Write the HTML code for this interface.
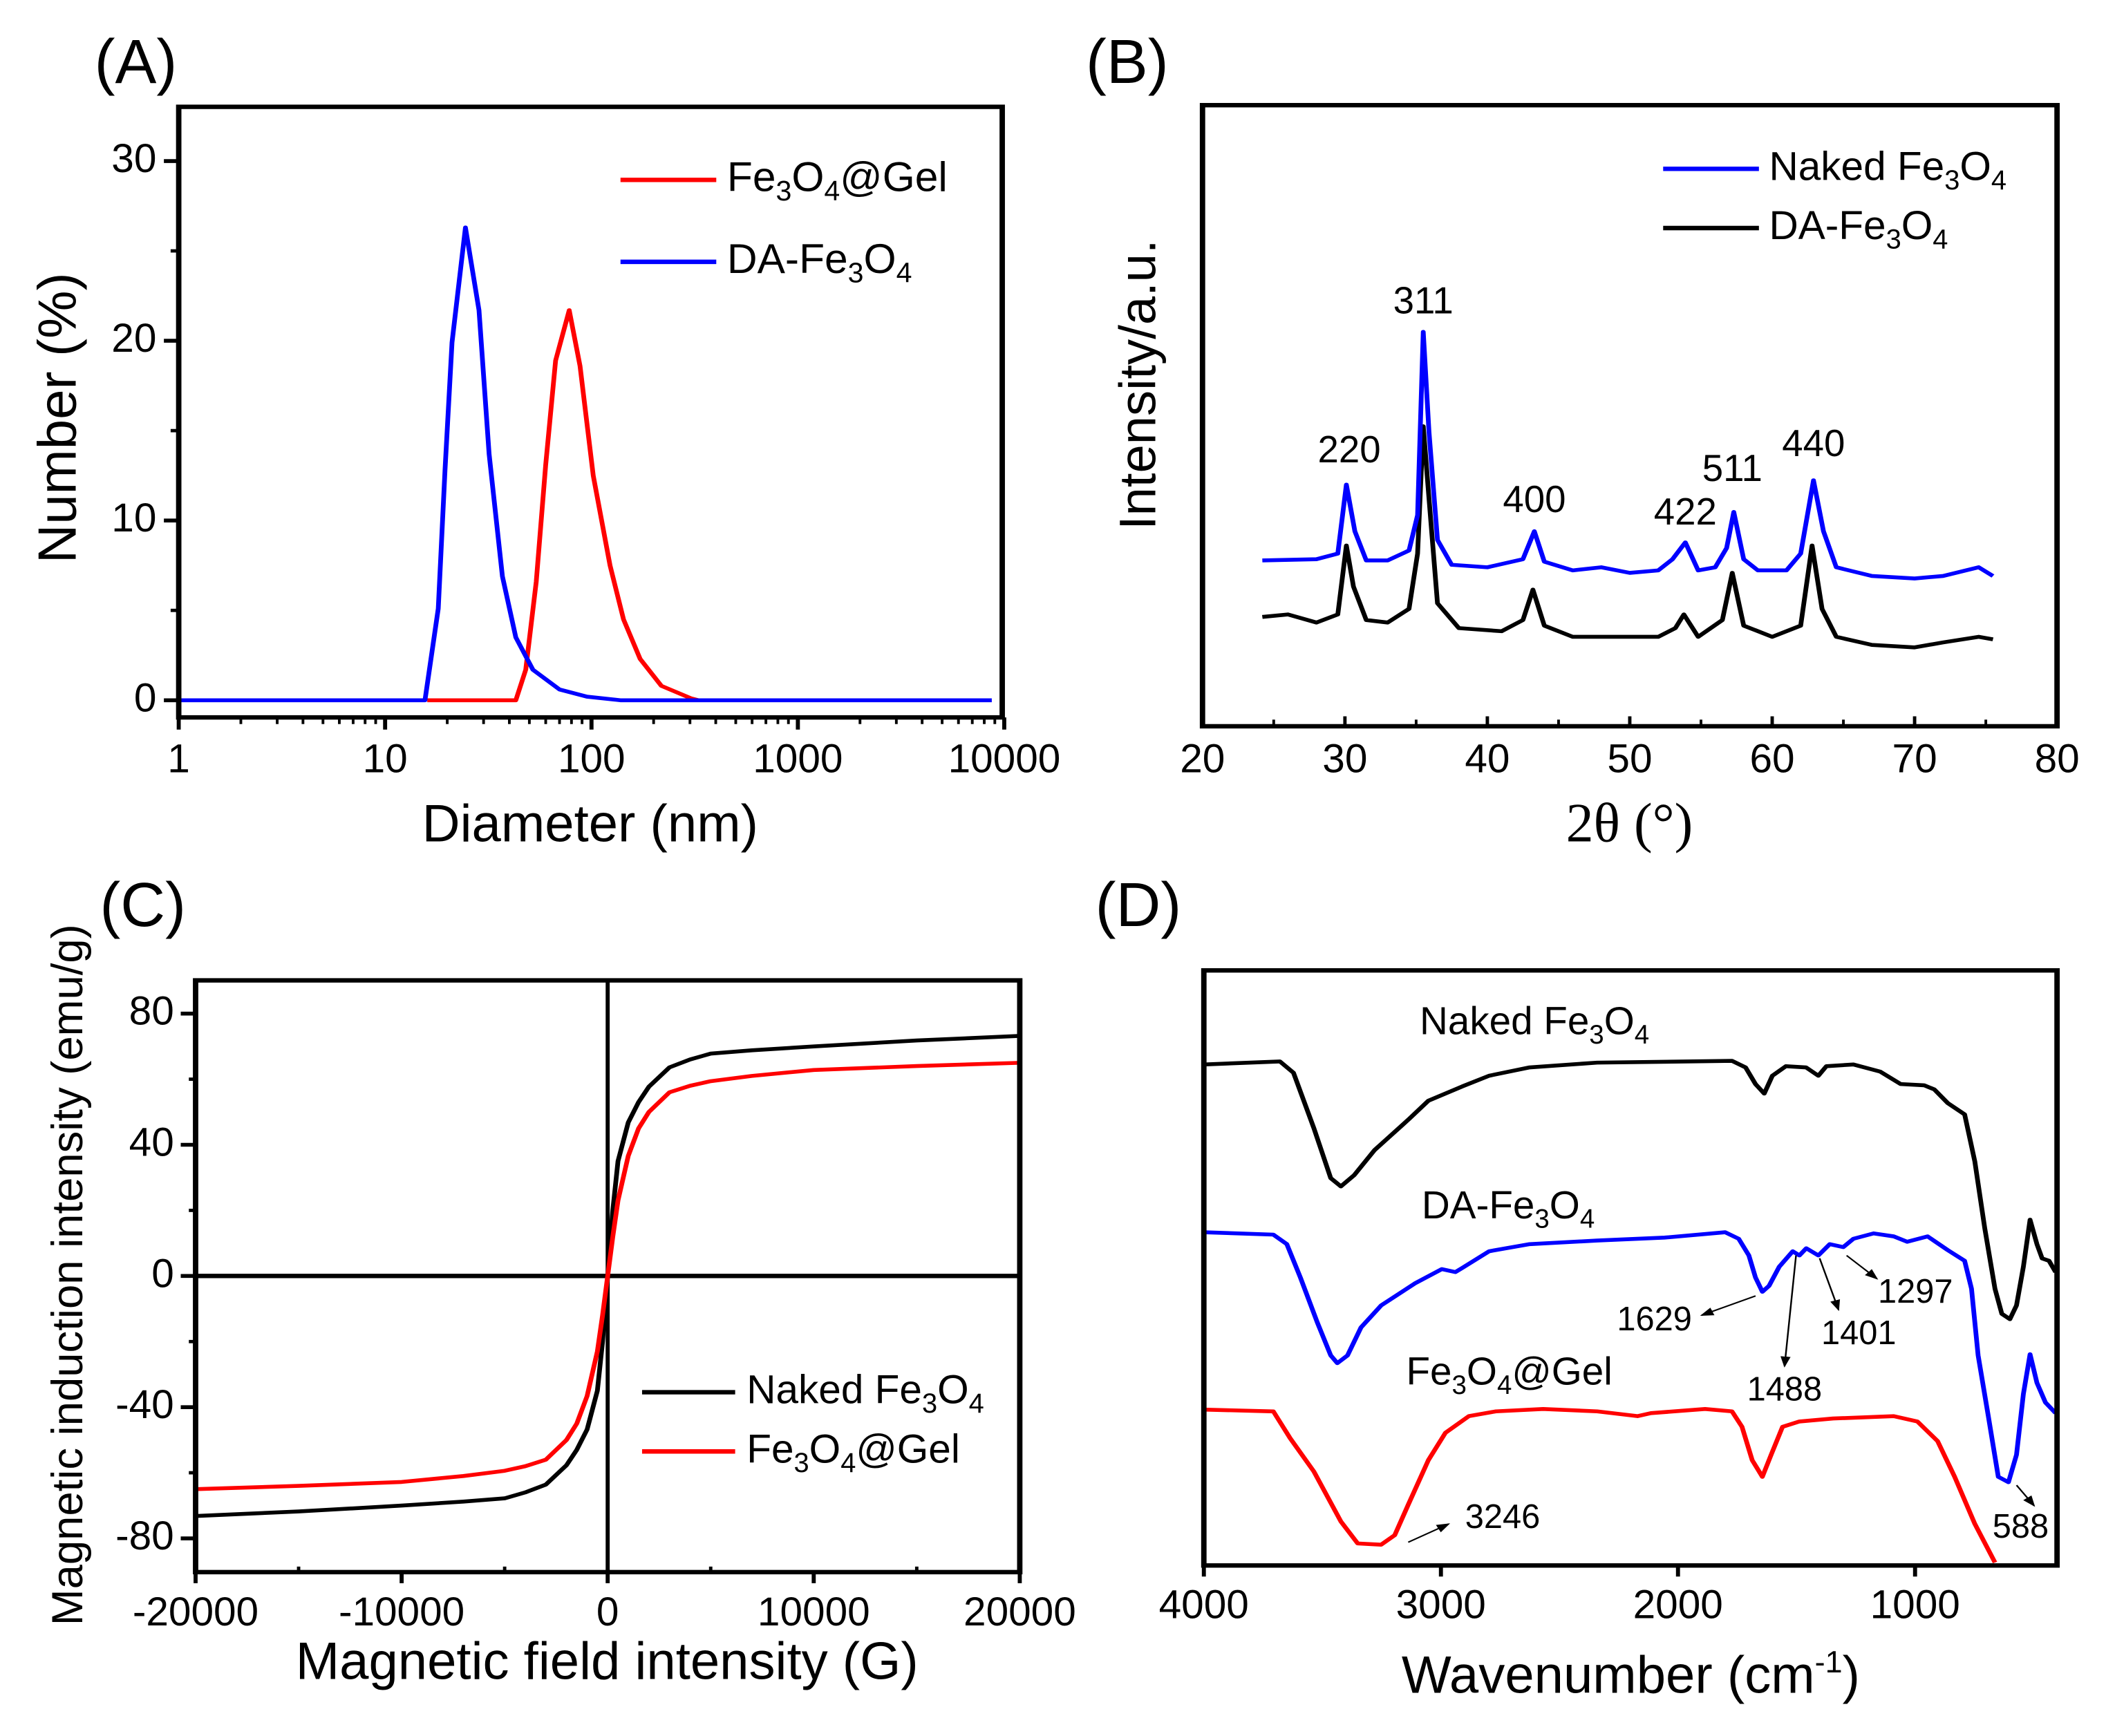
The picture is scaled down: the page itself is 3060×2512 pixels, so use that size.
<!DOCTYPE html>
<html><head><meta charset="utf-8">
<style>
html,body{margin:0;padding:0;background:#fff;overflow:hidden;}
svg{display:block;font-family:"Liberation Sans",Arial,sans-serif;}
.sub{font-size:0.68em;}
</style></head>
<body>
<svg id="fig" xmlns="http://www.w3.org/2000/svg" width="3060" height="2512" viewBox="0 0 3060 2512">
<rect x="0" y="0" width="3060" height="2512" fill="#fff"/>
<!-- Panel A -->
<g id="pA" class="panel" transform="translate(0,0) scale(0.9758,0.801)">
  <text x="140" y="150" font-size="92">(A)</text>
  <g id="pA-plot"></g>
  <rect x="265" y="193" width="1221" height="1103" fill="none" stroke="#000" stroke-width="8"/>
  <text transform="translate(112,755) rotate(-90)" text-anchor="middle" font-size="80">Number (%)</text>
  <text x="875" y="1520" text-anchor="middle" font-size="78">Diameter (nm)</text>
  <g>
    <line x1="920" y1="325" x2="1062" y2="325" stroke="#f00" stroke-width="8"/>
    <text x="1078" y="345" font-size="62">Fe<tspan class="sub" dy="14">3</tspan><tspan dy="-14">O</tspan><tspan class="sub" dy="14">4</tspan><tspan dy="-14">@Gel</tspan></text>
    <line x1="920" y1="473" x2="1062" y2="473" stroke="#00f" stroke-width="8"/>
    <text x="1078" y="493" font-size="62">DA-Fe<tspan class="sub" dy="14">3</tspan><tspan dy="-14">O</tspan><tspan class="sub" dy="14">4</tspan></text>
  </g>
</g>
<!-- Panel B -->
<g id="pB" class="panel" transform="translate(1530,0) scale(0.9758,0.801)">
  <text x="42" y="150" font-size="92">(B)</text>
  <g id="pB-plot"></g>
  <rect x="215" y="190" width="1267" height="1122" fill="none" stroke="#000" stroke-width="8"/>
  <text transform="translate(145,695) rotate(-90)" text-anchor="middle" font-size="76">Intensity/a.u.</text>
  <text x="848" y="1520" text-anchor="middle" font-size="82" font-family="Liberation Serif, serif">2θ (°)</text>
  <g>
    <line x1="898" y1="305" x2="1040" y2="305" stroke="#00f" stroke-width="8"/>
    <text x="1055" y="325" font-size="60">Naked Fe<tspan class="sub" dy="14">3</tspan><tspan dy="-14">O</tspan><tspan class="sub" dy="14">4</tspan></text>
    <line x1="898" y1="412" x2="1040" y2="412" stroke="#000" stroke-width="8"/>
    <text x="1055" y="432" font-size="60">DA-Fe<tspan class="sub" dy="14">3</tspan><tspan dy="-14">O</tspan><tspan class="sub" dy="14">4</tspan></text>
  </g>
</g>
<!-- Panel C -->
<g id="pC" class="panel" transform="translate(0,1256) scale(0.9758,0.801)">
  <text x="148" y="105" font-size="92">(C)</text>
  <g id="pC-plot"></g>
  <rect x="290" y="203" width="1222" height="1069" fill="none" stroke="#000" stroke-width="8"/>
  <text transform="translate(122,735) rotate(-90)" text-anchor="middle" font-size="65">Magnetic induction intensity (emu/g)</text>
  <text x="900" y="1465" text-anchor="middle" font-size="78">Magnetic field intensity (G)</text>
  <g>
    <line x1="952" y1="947" x2="1090" y2="947" stroke="#000" stroke-width="8"/>
    <text x="1107" y="967" font-size="60">Naked Fe<tspan class="sub" dy="14">3</tspan><tspan dy="-14">O</tspan><tspan class="sub" dy="14">4</tspan></text>
    <line x1="952" y1="1054" x2="1090" y2="1054" stroke="#f00" stroke-width="8"/>
    <text x="1107" y="1074" font-size="60">Fe<tspan class="sub" dy="14">3</tspan><tspan dy="-14">O</tspan><tspan class="sub" dy="14">4</tspan><tspan dy="-14">@Gel</tspan></text>
  </g>
</g>
<!-- Panel D -->
<g id="pD" class="panel" transform="translate(1530,1256) scale(0.9758,0.801)">
  <text x="56" y="105" font-size="92">(D)</text>
  <g id="pD-plot"></g>
  <rect x="217" y="185" width="1265" height="1075" fill="none" stroke="#000" stroke-width="8"/>
  <text x="850" y="1490" text-anchor="middle" font-size="78">Wavenumber (cm<tspan font-size="46" dy="-30">-1</tspan><tspan dy="30">)</tspan></text>
  <text x="537" y="300" font-size="58">Naked Fe<tspan class="sub" dy="14">3</tspan><tspan dy="-14">O</tspan><tspan class="sub" dy="14">4</tspan></text>
  <text x="540" y="633" font-size="58">DA-Fe<tspan class="sub" dy="14">3</tspan><tspan dy="-14">O</tspan><tspan class="sub" dy="14">4</tspan></text>
  <text x="517" y="933" font-size="58">Fe<tspan class="sub" dy="14">3</tspan><tspan dy="-14">O</tspan><tspan class="sub" dy="14">4</tspan><tspan dy="-14">@Gel</tspan></text>
</g>
</svg>
<script>
// ---------- Panel A data (DLS) ----------
const aBlueD = [1, 15.6, 18.1, 19.5, 21.1, 24.5, 28.5, 31.9, 37.0, 43.0, 52, 70, 95, 138, 8700];
const aBlueV = [0, 0, 5.1, 12.8, 19.9, 26.3, 21.7, 13.7, 6.9, 3.5, 1.7, 0.6, 0.2, 0, 0];
const aRedD = [16, 43, 48, 54, 60, 67, 78, 88, 102, 123, 143, 172, 218, 305, 330];
const aRedV = [0, 0, 1.7, 6.6, 13.1, 18.9, 21.7, 18.6, 12.5, 7.5, 4.5, 2.3, 0.8, 0.1, 0];
const aYTicks = [0, 10, 20, 30];
const aXTicks = [1, 10, 100, 1000, 10000];
const aXLabels = ["1", "10", "100", "1000", "10000"];

// ---------- Panel B data (XRD) ----------
const bTheta = [24.2, 28, 29.5, 30.1, 30.7, 31.5, 33, 34.5, 35.1, 35.5, 35.9, 36.5, 37.5, 40, 42.5, 43.3, 44, 46, 48, 50, 52, 53, 53.9, 54.8, 56, 56.8, 57.3, 58, 59, 61, 62, 62.9, 63.6, 64.5, 67, 70, 72, 74.5, 75.5];
const bNaked = [26.7, 26.9, 27.8, 38.9, 31.4, 26.7, 26.7, 28.3, 34.0, 63.5, 47.4, 30.0, 26.0, 25.6, 26.9, 31.4, 26.5, 25.1, 25.6, 24.7, 25.1, 26.9, 29.6, 25.1, 25.6, 28.7, 34.5, 26.9, 25.1, 25.1, 27.8, 39.6, 31.4, 25.6, 24.2, 23.8, 24.2, 25.6, 24.2];
const bThetaDA = [24.2, 26, 28, 29.5, 30.1, 30.6, 31.5, 33, 34.5, 35.1, 35.5, 35.9, 36.5, 38, 41, 42.5, 43.2, 44, 46, 49, 52, 53.2, 53.8, 54.8, 56.5, 57.2, 58, 60, 62, 62.8, 63.5, 64.5, 67, 70, 72, 74.5, 75.5];
const bDA = [17.6, 18.0, 16.7, 18.0, 29.1, 22.5, 17.1, 16.7, 18.9, 27.8, 48.3, 36.7, 19.8, 15.8, 15.3, 17.1, 22.0, 16.2, 14.4, 14.4, 14.4, 15.8, 18.0, 14.4, 17.1, 24.7, 16.2, 14.4, 16.2, 29.1, 18.9, 14.4, 13.1, 12.7, 13.5, 14.4, 14.0];
const bPeakNames = ["220", "311", "400", "422", "511", "440"];
const bPeakPos = [30.3, 35.5, 43.3, 53.9, 57.2, 62.9];
const bPeakLabelV = [42.5, 66.5, 34.5, 32.5, 39.5, 43.5];
const bXTicks = [20, 30, 40, 50, 60, 70, 80];

// ---------- Panel C data (VSM) ----------
const cH = [-20000, -15000, -10000, -7000, -5000, -4000, -3000, -2000, -1500, -1000, -500, -250, 0, 250, 500, 1000, 1500, 2000, 3000, 4000, 5000, 7000, 10000, 15000, 20000];
const cNaked = [-73.2, -71.8, -70, -68.8, -67.8, -66, -63.6, -57.7, -53, -46.8, -35, -20, 0, 20, 35, 46.8, 53, 57.7, 63.6, 66, 67.8, 68.8, 70, 71.8, 73.2];
const cGel = [-65, -64, -62.8, -61, -59.4, -58, -56, -50, -45, -36.6, -23, -12, 0, 12, 23, 36.6, 45, 50, 56, 58, 59.4, 61, 62.8, 64, 65];
const cYTicks = [-80, -40, 0, 40, 80];
const cXTicks = [-20000, -10000, 0, 10000, 20000];

// ---------- Panel D data (FTIR) ----------
const dNakedW = [4000, 3679, 3622, 3536, 3465, 3422, 3366, 3280, 3138, 3053, 2910, 2797, 2626, 2341, 1772, 1715, 1673, 1636, 1602, 1545, 1460, 1408, 1374, 1260, 1147, 1061, 962, 919, 862, 791, 748, 706, 663, 634, 600, 572, 543, 515, 486, 464, 435, 407];
const dNakedT = [84.2, 84.7, 82.8, 73.5, 65.1, 63.7, 65.6, 69.8, 74.9, 78.1, 80.5, 82.3, 83.7, 84.5, 84.8, 83.7, 80.9, 79.3, 82.3, 83.9, 83.7, 82.3, 83.9, 84.2, 83.0, 80.9, 80.7, 80.0, 77.7, 75.8, 67.9, 56.7, 46.5, 42.3, 41.4, 43.7, 50.2, 58.1, 54.0, 51.6, 51.2, 49.3];
const dDAW = [4000, 3707, 3650, 3593, 3522, 3465, 3437, 3394, 3337, 3252, 3110, 2996, 2939, 2910, 2797, 2626, 2341, 2057, 1801, 1744, 1701, 1673, 1644, 1616, 1573, 1516, 1488, 1459, 1408, 1360, 1303, 1260, 1175, 1090, 1033, 947, 862, 791, 762, 734, 691, 649, 606, 572, 543, 515, 486, 450, 407];
const dDAT = [56.0, 55.6, 54.0, 48.4, 40.9, 35.3, 34.0, 35.3, 40.0, 43.7, 47.4, 49.8, 49.3, 50.0, 52.8, 54.0, 54.6, 55.1, 56.0, 54.9, 52.1, 48.4, 46.0, 47.0, 50.2, 52.8, 52.1, 53.3, 52.1, 54.0, 53.5, 54.9, 55.8, 55.3, 54.4, 55.3, 53.0, 51.2, 46.5, 35.3, 25.1, 14.9, 14.0, 18.6, 28.8, 35.5, 30.7, 27.4, 25.6];
const dGelW = [4000, 3707, 3636, 3536, 3422, 3351, 3252, 3195, 3138, 3053, 2981, 2882, 2768, 2569, 2341, 2171, 2114, 1886, 1772, 1730, 1687, 1644, 1607, 1559, 1488, 1346, 1090, 990, 905, 833, 748, 663];
const dGelT = [26.2, 25.9, 21.4, 15.8, 7.4, 3.7, 3.5, 5.1, 10.2, 17.7, 22.3, 25.1, 25.9, 26.3, 25.9, 25.1, 25.6, 26.3, 25.9, 23.3, 17.7, 14.9, 18.6, 23.3, 24.2, 24.7, 25.1, 24.2, 20.9, 14.9, 7.0, 0.5];
const dXTicks = [4000, 3000, 2000, 1000];
const dAnnoText = ["1629", "1488", "1401", "1297", "3246", "588"];
const dAnnoW = [1629, 1488, 1401, 1297, 3246, 588];

// ---------- axis functions (panel-local coordinates) ----------
const xA = v => 265 + Math.log10(v) * 306;
const yA = v => 1265 - v * 32.47;
const xB = v => 215 + (v - 20) * 1267 / 60;
const yB = v => 1312 - v * 11.22;
const xC = v => 290 + (v + 20000) * 1222 / 40000;
const yC = v => 737 - v * 5.925;
const xD = v => 217 + (4000 - v) * 0.3515;
const yD = v => 1260 - v * 10.75;

const NS = "http://www.w3.org/2000/svg";
function make(parent, tag, attrs) {
  const el = document.createElementNS(NS, tag);
  for (const k in attrs) el.setAttribute(k, attrs[k]);
  parent.appendChild(el);
  return el;
}
function pts(xs, ys, fx, fy) {
  return xs.map((x, i) => fx(x).toFixed(1) + "," + fy(ys[i]).toFixed(1)).join(" ");
}
const SW = 7;

// ===== Panel A =====
const gA = document.getElementById("pA-plot");
aYTicks.forEach(v => {
  const t = make(gA, "line", {x1: 243, x2: 265, y1: yA(v), y2: yA(v), stroke: "#000", "stroke-width": 7});
  
  
  const l = make(gA, "text", {x: 232, y: yA(v) + 20, "text-anchor": "end", "font-size": 60});
  l.textContent = String(v);
  
  
});
[5, 15, 25].forEach(v => {
  const t = make(gA, "line", {x1: 253, x2: 265, y1: yA(v), y2: yA(v), stroke: "#000", "stroke-width": 6});
  
  
});
aXTicks.forEach((v, i) => {
  const t = make(gA, "line", {x1: xA(v), x2: xA(v), y1: 1296, y2: 1318, stroke: "#000", "stroke-width": 6});
  
  
  const l = make(gA, "text", {x: xA(v), y: 1395, "text-anchor": "middle", "font-size": 60});
  l.textContent = aXLabels[i];
  
  
  if (v < 10000) {
    for (let m = 2; m <= 9; m++) {
      const mt = make(gA, "line", {x1: xA(v * m), x2: xA(v * m), y1: 1296, y2: 1308, stroke: "#000", "stroke-width": 4});
      
      
    }
  }
});
const aRed = make(gA, "polyline", {points: pts(aRedD, aRedV, xA, yA), fill: "none", stroke: "#f00", "stroke-width": SW, "stroke-linejoin": "round"});


const aBlue = make(gA, "polyline", {points: pts(aBlueD, aBlueV, xA, yA), fill: "none", stroke: "#00f", "stroke-width": SW, "stroke-linejoin": "round"});



// ===== Panel B =====
const gB = document.getElementById("pB-plot");
bXTicks.forEach(v => {
  const t = make(gB, "line", {x1: xB(v), x2: xB(v), y1: 1312, y2: 1294, stroke: "#000", "stroke-width": 5});
  
  
  const l = make(gB, "text", {x: xB(v), y: 1395, "text-anchor": "middle", "font-size": 60});
  l.textContent = String(v);
  
  
  if (v < 80) {
    const m = make(gB, "line", {x1: xB(v + 5), x2: xB(v + 5), y1: 1312, y2: 1300, stroke: "#000", "stroke-width": 4});
    
    
  }
});
const bBlack = make(gB, "polyline", {points: pts(bThetaDA, bDA, xB, yB), fill: "none", stroke: "#000", "stroke-width": SW, "stroke-linejoin": "round"});


const bBlue = make(gB, "polyline", {points: pts(bTheta, bNaked, xB, yB), fill: "none", stroke: "#00f", "stroke-width": SW, "stroke-linejoin": "round"});


bPeakNames.forEach((n, i) => {
  const l = make(gB, "text", {x: xB(bPeakPos[i]), y: yB(bPeakLabelV[i]), "text-anchor": "middle", "font-size": 56});
  l.textContent = n;
  
  
});

// ===== Panel C =====
const gC = document.getElementById("pC-plot");
cYTicks.forEach(v => {
  const t = make(gC, "line", {x1: 268, x2: 290, y1: yC(v), y2: yC(v), stroke: "#000", "stroke-width": 7});
  
  
  const l = make(gC, "text", {x: 258, y: yC(v) + 20, "text-anchor": "end", "font-size": 60});
  l.textContent = String(v);
  
  
});
[-60, -20, 20, 60].forEach(v => {
  const t = make(gC, "line", {x1: 280, x2: 290, y1: yC(v), y2: yC(v), stroke: "#000", "stroke-width": 6});
  
  
});
cXTicks.forEach(v => {
  const t = make(gC, "line", {x1: xC(v), x2: xC(v), y1: 1272, y2: 1292, stroke: "#000", "stroke-width": 6});
  
  
  const l = make(gC, "text", {x: xC(v), y: 1368, "text-anchor": "middle", "font-size": 60});
  l.textContent = String(v);
  
  
});
[-15000, -5000, 5000, 15000].forEach(v => {
  const t = make(gC, "line", {x1: xC(v), x2: xC(v), y1: 1272, y2: 1262, stroke: "#000", "stroke-width": 5});
  
  
});
const cV = make(gC, "line", {x1: xC(0), x2: xC(0), y1: 203, y2: 1272, stroke: "#000", "stroke-width": 6});


const cHz = make(gC, "line", {x1: 290, x2: 1512, y1: yC(0), y2: yC(0), stroke: "#000", "stroke-width": 8});


const cBlack = make(gC, "polyline", {points: pts(cH, cNaked, xC, yC), fill: "none", stroke: "#000", "stroke-width": SW, "stroke-linejoin": "round"});


const cRed = make(gC, "polyline", {points: pts(cH, cGel, xC, yC), fill: "none", stroke: "#f00", "stroke-width": SW, "stroke-linejoin": "round"});



// ===== Panel D =====
const gD = document.getElementById("pD-plot");
dXTicks.forEach(v => {
  const t = make(gD, "line", {x1: xD(v), x2: xD(v), y1: 1260, y2: 1280, stroke: "#000", "stroke-width": 6});
  
  
  const l = make(gD, "text", {x: xD(v), y: 1355, "text-anchor": "middle", "font-size": 60});
  l.textContent = String(v);
  
  
});
const dBlack = make(gD, "polyline", {points: pts(dNakedW, dNakedT, xD, yD), fill: "none", stroke: "#000", "stroke-width": SW, "stroke-linejoin": "round"});


const dBlue = make(gD, "polyline", {points: pts(dDAW, dDAT, xD, yD), fill: "none", stroke: "#00f", "stroke-width": SW, "stroke-linejoin": "round"});


const dRed = make(gD, "polyline", {points: pts(dGelW, dGelT, xD, yD), fill: "none", stroke: "#f00", "stroke-width": SW, "stroke-linejoin": "round"});



const annoLayout = [
  {tx: 885, ty: 835, ax1: 1035, ay1: 773, ax2: 955, ay2: 808},
  {tx: 1078, ty: 962, ax1: 1095, ay1: 700, ax2: 1078, ay2: 900},
  {tx: 1188, ty: 860, ax1: 1130, ay1: 705, ax2: 1158, ay2: 798},
  {tx: 1272, ty: 785, ax1: 1170, ay1: 700, ax2: 1215, ay2: 742},
  {tx: 660, ty: 1192, ax1: 520, ay1: 1218, ax2: 580, ay2: 1185},
  {tx: 1428, ty: 1210, ax1: 1422, ay1: 1115, ax2: 1448, ay2: 1152}
];
const defs = make(document.getElementById("fig"), "defs", {});
const mk = make(defs, "marker", {id: "arr", markerWidth: 8, markerHeight: 8, refX: 7, refY: 4, orient: "auto", markerUnits: "strokeWidth"});
make(mk, "path", {d: "M0,1 L8,4 L0,7 Z", fill: "#000"});
dAnnoText.forEach((s, i) => {
  const L = annoLayout[i];
  const a = make(gD, "line", {x1: L.ax1, y1: L.ay1, x2: L.ax2, y2: L.ay2, stroke: "#000", "stroke-width": 2.5, "marker-end": "url(#arr)"});
  
  
  const t = make(gD, "text", {x: L.tx, y: L.ty, "text-anchor": "middle", "font-size": 50});
  t.textContent = s;
  
  
});

// ---- counter the vertical squash of panel frames so text keeps normal proportions ----
const K = 0.9758 / 0.801;
document.querySelectorAll("g.panel text").forEach(t => {
  const tr = t.getAttribute("transform");
  if (tr) {
    const m = tr.match(/^translate\(([^)]*)\)\s*(.*)$/);
    t.setAttribute("transform", "translate(" + m[1] + ") scale(1," + K + ") " + m[2]);
  } else {
    const x = parseFloat(t.getAttribute("x")), y = parseFloat(t.getAttribute("y"));
    t.setAttribute("transform", "translate(" + x + "," + y + ") scale(1," + K + ") translate(" + (-x) + "," + (-y) + ")");
  }
});
</script>
</body></html>
